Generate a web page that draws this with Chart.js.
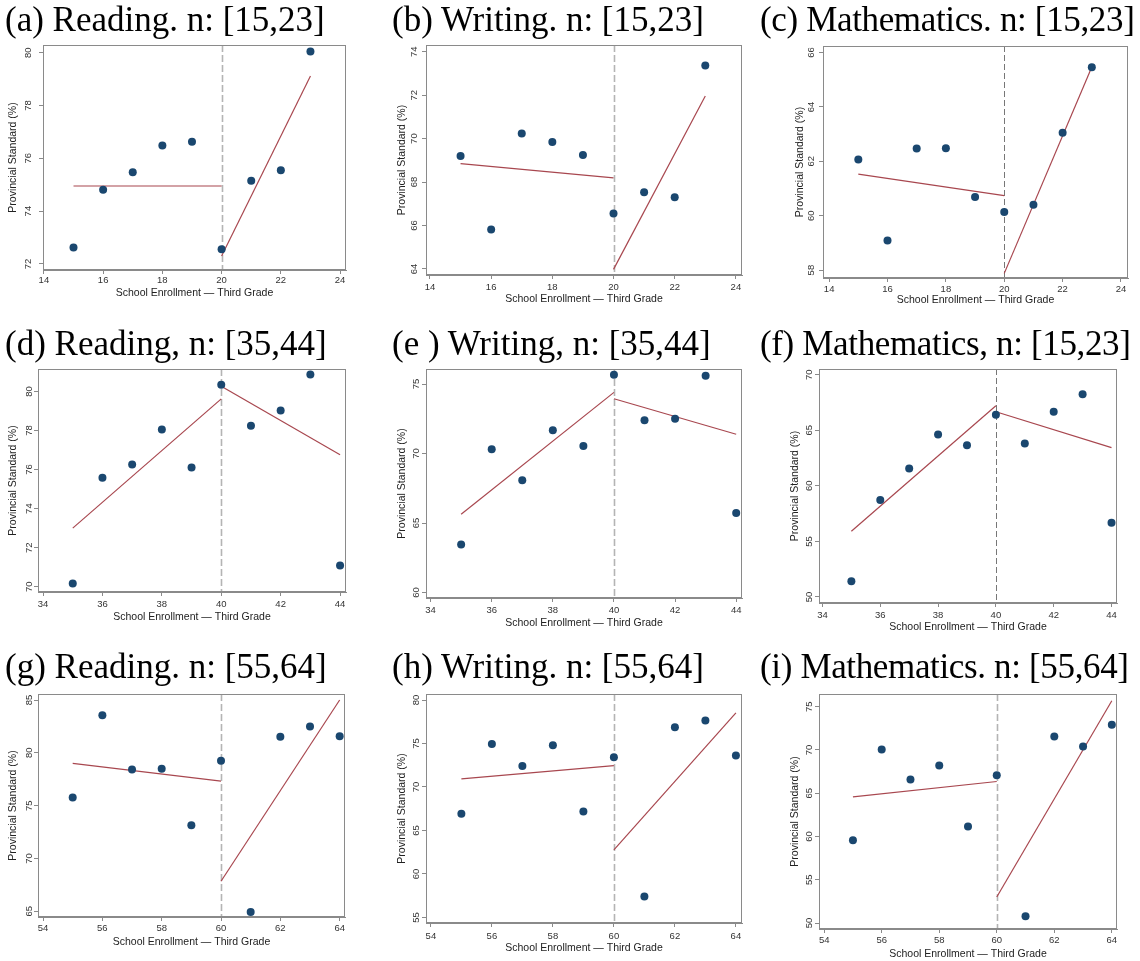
<!DOCTYPE html>
<html>
<head>
<meta charset="utf-8">
<script src="https://cdn.jsdelivr.net/npm/chart.js@4.4.1/dist/chart.umd.min.js"></script>
<style>
body { margin:0; background:#fff; width:1140px; height:961px; position:relative; overflow:hidden; }
canvas { position:absolute; }
.ttl { position:absolute; font-family:'Liberation Serif','Times New Roman',serif; font-size:35px; line-height:35px; white-space:nowrap; color:#000; }
.ttl.narrow { letter-spacing:-0.35px; }
</style>
</head>
<body>
<script>
// school enrollment (third grade) on the x axis
const enr15 = [15, 16, 17, 18, 19, 20, 21, 22, 23];
const enr35 = [35, 36, 37, 38, 39, 40, 41, 42, 43, 44];
const enr55 = [55, 56, 57, 58, 59, 60, 61, 62, 63, 64];
const cutoffs = [20, 40, 60];

// share reaching the provincial standard (%)
const readA = [72.62, 74.81, 75.47, 76.48, 76.63, 72.56, 75.15, 75.55, 80.04];
const writeB = [69.20, 65.81, 70.23, 69.84, 69.25, 66.55, 67.53, 67.30, 73.37];
const mathC = [62.07, 59.09, 62.47, 62.48, 60.69, 60.14, 60.40, 63.05, 65.46];
const readD = [70.17, 75.58, 76.26, 78.05, 76.11, 80.34, 78.24, 79.03, 80.87, 71.09];
const writeE = [63.46, 70.31, 68.08, 71.68, 70.55, 75.67, 72.40, 72.50, 75.60, 65.72];
const mathF = [51.41, 58.72, 61.55, 64.62, 63.65, 66.39, 63.80, 66.66, 68.23, 56.68];
const readG = [75.77, 83.55, 78.43, 78.49, 73.15, 79.25, 64.94, 81.52, 82.50, 81.56];
const writeH = [66.91, 74.95, 72.42, 74.79, 67.17, 73.42, 57.41, 76.86, 77.63, 73.61];
const mathI = [59.57, 70.06, 66.59, 68.21, 61.15, 67.09, 50.77, 71.57, 70.41, 72.92];

// linear fit each side of the cutoff: [left start, left end], [right start, right end]
const fitA = [[74.95, 74.95], [72.30, 79.12]];
const fitB = [[68.85, 68.19], [63.98, 71.96]];
const fitC = [[61.53, 60.74], [57.88, 65.47]];
const fitD = [[73.00, 79.62], [80.27, 76.76]];
const fitE = [[65.63, 74.40], [73.94, 71.39]];
const fitF = [[55.92, 67.20], [66.66, 63.44]];
const fitG = [[79.00, 77.32], [67.84, 85.00]];
const fitH = [[70.93, 72.46], [62.77, 78.51]];
const fitI = [[64.58, 66.36], [53.01, 75.69]];

// tick labels
const xTicks15 = [14, 16, 18, 20, 22, 24];
const xTicks35 = [34, 36, 38, 40, 42, 44];
const xTicks55 = [54, 56, 58, 60, 62, 64];
const yTicksA = [72, 74, 76, 78, 80];
const yTicksB = [64, 66, 68, 70, 72, 74];
const yTicksC = [58, 60, 62, 64, 66];
const yTicksD = [70, 72, 74, 76, 78, 80];
const yTicksE = [60, 65, 70, 75];
const yTicksF = [50, 55, 60, 65, 70];
const yTicksG = [65, 70, 75, 80, 85];
const yTicksH = [55, 60, 65, 70, 75, 80];
const yTicksI = [50, 55, 60, 65, 70, 75];

const titles = ['(a) Reading. n: [15,23]', '(b) Writing. n: [15,23]', '(c) Mathematics. n: [15,23]',
  '(d) Reading, n: [35,44]', '(e ) Writing, n: [35,44]', '(f) Mathematics, n: [15,23]',
  '(g) Reading. n: [55,64]', '(h) Writing. n: [55,64]', '(i) Mathematics. n: [55,64]'];
const xTitle = 'School Enrollment \u2014 Third Grade';
const yTitle = 'Provincial Standard (%)';

const NAVY = '#1a476f';
const FIT = '#a8474f';
const AXIS = '#8a8a8a';

// plot box in page pixels and axis ranges for each panel
const panels = [
  {x: enr15, y: readA, fit: fitA, cut: cutoffs[0], xt: xTicks15, yt: yTicksA, box: [43, 45, 346, 270], xr: [13.97, 24.2], yr: [71.77, 80.29], ytx: 13, xtt: 293, ypad: 5, xpad: 1, dark: false},
  {x: enr15, y: writeB, fit: fitB, cut: cutoffs[0], xt: xTicks15, yt: yTicksB, box: [426, 45, 742, 275], xr: [13.87, 24.2], yr: [63.72, 74.31], ytx: 402, xtt: 299, ypad: 2, xpad: 2.6, dark: false},
  {x: enr15, y: mathC, fit: fitC, cut: cutoffs[0], xt: xTicks15, yt: yTicksC, box: [823, 46, 1128, 278], xr: [13.79, 24.24], yr: [57.71, 66.24], ytx: 800, xtt: 300, ypad: 2, xpad: 1.6, dark: true},
  {x: enr35, y: readD, fit: fitD, cut: cutoffs[1], xt: xTicks35, yt: yTicksD, box: [38, 369, 346, 592], xr: [33.83, 44.2], yr: [69.73, 81.15], ytx: 13, xtt: 617, ypad: -1, xpad: 2.3, dark: false},
  {x: enr35, y: writeE, fit: fitE, cut: cutoffs[1], xt: xTicks35, yt: yTicksE, box: [426, 369, 742, 598], xr: [33.85, 44.19], yr: [59.61, 76.08], ytx: 402, xtt: 623, ypad: 0, xpad: 2.6, dark: false},
  {x: enr35, y: mathF, fit: fitF, cut: cutoffs[1], xt: xTicks35, yt: yTicksF, box: [819, 369, 1117, 603], xr: [33.88, 44.19], yr: [49.46, 70.51], ytx: 795, xtt: 627, ypad: 0, xpad: 2.6, dark: true},
  {x: enr55, y: readG, fit: fitG, cut: cutoffs[2], xt: xTicks55, yt: yTicksG, box: [38, 694, 345, 917], xr: [53.83, 64.18], yr: [64.46, 85.57], ytx: 13, xtt: 942, ypad: -1, xpad: 1.9, dark: false},
  {x: enr55, y: writeH, fit: fitH, cut: cutoffs[2], xt: xTicks55, yt: yTicksH, box: [426, 694, 742, 923], xr: [53.84, 64.2], yr: [54.36, 80.69], ytx: 402, xtt: 948, ypad: 0, xpad: 3.7, dark: false},
  {x: enr55, y: mathI, fit: fitI, cut: cutoffs[2], xt: xTicks55, yt: yTicksI, box: [819, 694, 1117, 929], xr: [53.82, 64.18], yr: [49.31, 76.47], ytx: 795, xtt: 954, ypad: 0, xpad: 1.6, dark: false}
];
const titleLeft = [5, 392, 760];
const titleBase = [31, 355, 678];

Chart.defaults.font.family = "'Liberation Sans', Arial, sans-serif";
Chart.defaults.color = '#333';

// frame around the plot region and dashed line at the cutoff
const framePlugin = {
  id: 'frame',
  beforeDatasetsDraw(chart, args, opts) {
    const {ctx, chartArea: a, scales} = chart;
    const px = Math.round(scales.x.getPixelForValue(opts.cut)) + 0.5;
    ctx.save();
    ctx.strokeStyle = opts.dark ? '#777' : '#b4b4b4';
    ctx.lineWidth = opts.dark ? 1 : 1.6;
    ctx.setLineDash(opts.dark ? [6, 3] : [7, 3]);
    ctx.beginPath();
    ctx.moveTo(px, a.top);
    ctx.lineTo(px, a.bottom);
    ctx.stroke();
    ctx.restore();
  },
  afterDraw(chart) {
    const {ctx, chartArea: a} = chart;
    ctx.save();
    ctx.strokeStyle = AXIS;
    ctx.lineWidth = 1;
    ctx.strokeRect(Math.round(a.left) + 0.5, Math.round(a.top) + 0.5, Math.round(a.width) - 1, Math.round(a.height) - 1);
    ctx.restore();
  }
};

const PT = 14, PR = 14;

panels.forEach((p, i) => {
  const yw = Math.round(p.box[0] - p.ytx + 6.3);
  const xh = Math.round(p.xtt - p.box[3] + 6.3);
  const cv = document.createElement('canvas');
  cv.width = p.box[2] - p.box[0] + yw + PR;
  cv.height = p.box[3] - p.box[1] + PT + xh;
  cv.style.left = (p.box[0] - yw) + 'px';
  cv.style.top = (p.box[1] - PT) + 'px';
  document.body.appendChild(cv);

  const last = p.x[p.x.length - 1];
  new Chart(cv.getContext('2d'), {
    type: 'scatter',
    data: {
      datasets: [
        {
          type: 'scatter',
          data: p.x.map((v, k) => ({x: v, y: p.y[k]})),
          backgroundColor: NAVY,
          borderWidth: 0,
          pointRadius: 4,
          order: 1
        },
        {
          type: 'line',
          data: [{x: p.x[0], y: p.fit[0][0]}, {x: p.cut, y: p.fit[0][1]}],
          borderColor: FIT,
          borderWidth: 1.2,
          pointRadius: 0,
          fill: false,
          order: 2
        },
        {
          type: 'line',
          data: [{x: p.cut, y: p.fit[1][0]}, {x: last, y: p.fit[1][1]}],
          borderColor: FIT,
          borderWidth: 1.2,
          pointRadius: 0,
          fill: false,
          order: 2
        }
      ]
    },
    options: {
      responsive: false,
      animation: false,
      devicePixelRatio: 1,
      layout: {padding: {top: PT, right: PR, left: 0, bottom: 0}},
      plugins: {
        legend: {display: false},
        tooltip: {enabled: false},
        frame: {cut: p.cut, dark: p.dark}
      },
      scales: {
        x: {
          type: 'linear',
          min: p.xr[0],
          max: p.xr[1],
          afterBuildTicks: s => { s.ticks = p.xt.map(v => ({value: v})); },
          afterFit: s => { s.height = xh; },
          ticks: {font: {size: 9.5}, padding: p.xpad, maxRotation: 0, color: '#333'},
          grid: {drawOnChartArea: false, drawTicks: true, tickLength: 4, color: AXIS},
          border: {display: true, color: AXIS},
          title: {display: true, text: xTitle, font: {size: 10.5}, color: '#222', padding: 0}
        },
        y: {
          type: 'linear',
          min: p.yr[0],
          max: p.yr[1],
          afterBuildTicks: s => { s.ticks = p.yt.map(v => ({value: v})); },
          afterFit: s => { s.width = yw; },
          ticks: {font: {size: 9.5}, padding: p.ypad, minRotation: 90, maxRotation: 90, crossAlign: 'center', color: '#333'},
          grid: {drawOnChartArea: false, drawTicks: true, tickLength: 4, color: AXIS},
          border: {display: true, color: AXIS},
          title: {display: true, text: yTitle, font: {size: 10.5}, color: '#222', padding: 0}
        }
      }
    },
    plugins: [framePlugin]
  });

  const t = document.createElement('div');
  t.className = i % 3 === 2 ? 'ttl narrow' : 'ttl';
  t.textContent = titles[i];
  t.style.left = titleLeft[i % 3] + 'px';
  t.style.top = (titleBase[Math.floor(i / 3)] - 29) + 'px';
  document.body.appendChild(t);
});
</script>
</body>
</html>
